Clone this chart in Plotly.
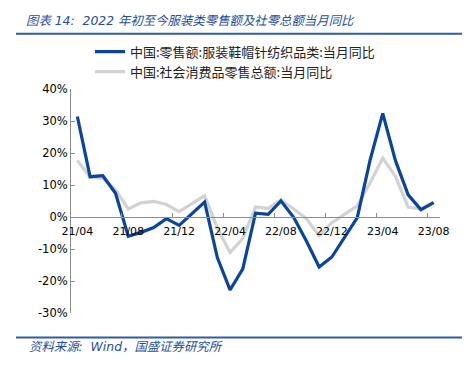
import plotly.graph_objects as go

months = ["21/04","21/05","21/06","21/07","21/08","21/09","21/10","21/11","21/12",
          "22/01","22/02","22/03","22/04","22/05","22/06","22/07","22/08","22/09","22/10","22/11","22/12",
          "23/01","23/02","23/03","23/04","23/05","23/06","23/07","23/08"]
apparel = [31.4, 12.6, 12.9, 7.4, -6.0, -4.8, -3.3, -0.5, -2.6,
           None, 4.7, -12.7, -22.8, -16.2, 1.2, 0.8, 5.0, -0.1, -7.5, -15.6, -12.5,
           None, -0.2, 17.7, 32.4, 17.6, 6.9, 2.3, 4.5]
total_retail = [17.7, 12.4, 12.1, 8.5, 2.5, 4.4, 4.9, 3.9, 1.7,
                None, 6.7, -3.5, -11.1, -6.7, 3.1, 2.7, 5.4, 2.5, -0.5, -5.9, -1.8,
                None, 3.5, 10.6, 18.4, 12.7, 3.1, 2.5, 4.6]
label_months = ["21/04","21/08","21/12","22/04","22/08","22/12","23/04","23/08"]
y_ticks = [-30, -20, -10, 0, 10, 20, 30, 40]

series_names = ["中国:零售额:服装鞋帽针纺织品类:当月同比", "中国:社会消费品零售总额:当月同比"]

W, H = 472, 371
L, R, T, B = 71, 440, 89.3, 313.3

def px_x(p):
    return (p - L) / (R - L)

def px_y(p):
    return (B - p) / (B - T)

idx = list(range(len(months)))
fig = go.Figure()
# gray drawn first so blue sits on top
fig.add_trace(go.Scatter(x=idx, y=total_retail, name=series_names[1], mode="lines",
                         connectgaps=True, legendrank=2,
                         line=dict(color="#D2D2D2", width=3.2)))
fig.add_trace(go.Scatter(x=idx, y=apparel, name=series_names[0], mode="lines",
                         connectgaps=True, legendrank=1,
                         line=dict(color="#0B449C", width=3.2)))

tickvals = [months.index(m) for m in label_months]
fig.update_layout(
    width=W, height=H,
    margin=dict(l=L, r=W - R, t=T, b=H - B, pad=0),
    paper_bgcolor="white", plot_bgcolor="white",
    font=dict(family="DejaVu Sans, Noto Sans CJK SC", color="#000000"),
    title=dict(text="图表 14:  2022 年初至今服装类零售额及社零总额当月同比",
               xref="container", yref="container", x=26 / W, xanchor="left",
               y=1 - 20.7 / H, yanchor="middle", automargin=False,
               font=dict(family="DejaVu Sans, Noto Sans CJK SC", size=12.4,
                         color="#1F4E9B", style="italic")),
    xaxis=dict(range=[-0.5, len(months) - 0.5], tickmode="array", tickvals=tickvals,
               ticktext=label_months, ticks="", showline=True, linecolor="#8C8C8C",
               linewidth=1, showgrid=False, zeroline=False, anchor="free",
               position=30 / 70, tickfont=dict(size=11, color="#000000"),
               ticklabelstandoff=4, automargin=False,
               minor=dict(tickmode="array",
                          tickvals=[v - 0.5 for v in tickvals[1:]],
                          ticks="inside", ticklen=4, tickcolor="#8C8C8C", tickwidth=1,
                          showgrid=False)),
    yaxis=dict(range=[-30, 40], tickmode="array", tickvals=y_ticks,
               ticktext=[f"{v}%" for v in y_ticks], ticks="inside", ticklen=4,
               tickcolor="#8C8C8C", showline=True, linecolor="#8C8C8C", linewidth=1,
               showgrid=False, zeroline=False, automargin=False,
               tickfont=dict(size=11.5, color="#000000")),
    legend=dict(x=px_x(90), y=px_y(87), xanchor="left", yanchor="bottom",
                bgcolor="rgba(0,0,0,0)", tracegroupgap=0,
                font=dict(family="Noto Sans CJK SC", size=13, color="#222222")),
    showlegend=True,
)

# decorative rules
for py in (34, 337.7):
    fig.add_shape(type="line", xref="paper", yref="paper",
                  x0=px_x(16), x1=px_x(462), y0=px_y(py), y1=px_y(py),
                  line=dict(color="#2E5DA8", width=2))

fig.add_annotation(text="资料来源:  Wind，国盛证券研究所", xref="paper", yref="paper",
                   x=px_x(27), y=px_y(347), xanchor="left", yanchor="middle",
                   showarrow=False,
                   font=dict(family="DejaVu Sans, Noto Sans CJK SC", size=12.4,
                             color="#1F4E9B", style="italic"))

fig.write_html("out.html", config={"displayModeBar": False},
               post_script="document.body.style.margin='0';document.body.style.overflow='hidden';")
